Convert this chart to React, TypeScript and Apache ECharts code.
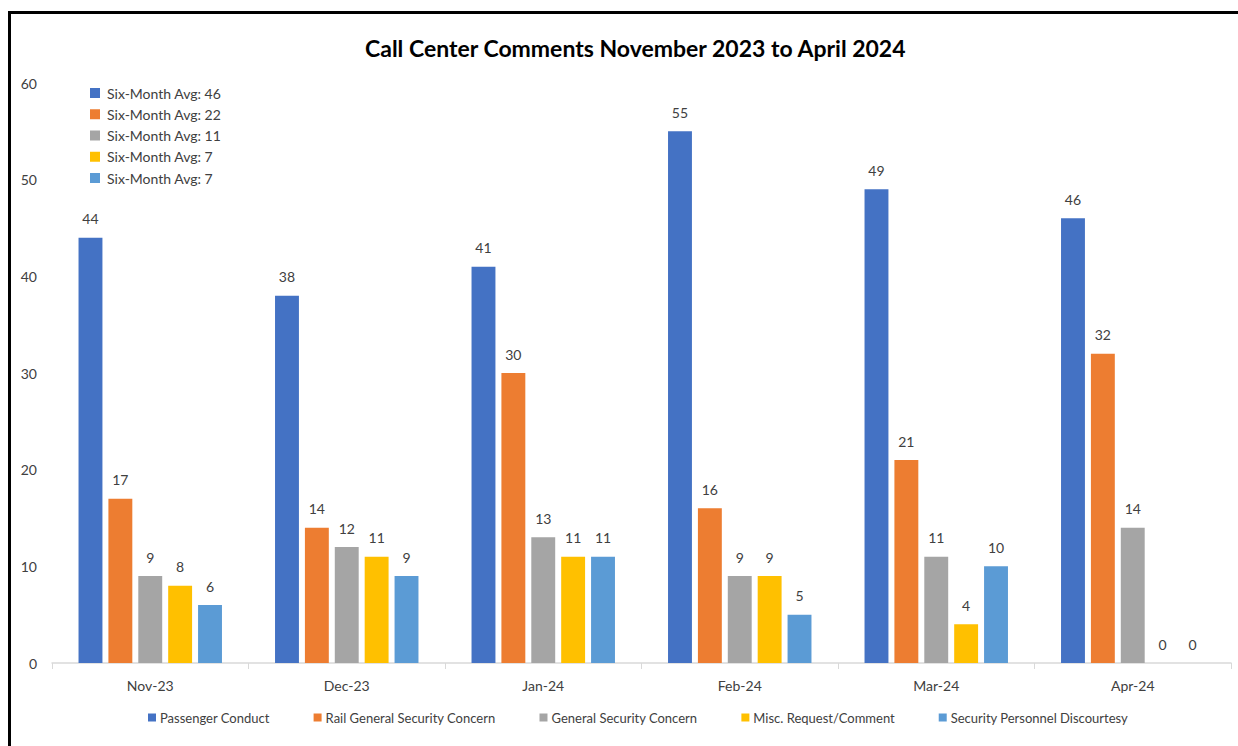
import React, { useEffect, useRef } from "react";
import * as echarts from "echarts";

const categories = ["Nov-23", "Dec-23", "Jan-24", "Feb-24", "Mar-24", "Apr-24"];
const seriesNames = [
  "Passenger Conduct",
  "Rail General Security Concern",
  "General Security Concern",
  "Misc. Request/Comment",
  "Security Personnel Discourtesy",
];
const passengerConduct = [44, 38, 41, 55, 49, 46];
const railGeneralSecurity = [17, 14, 30, 16, 21, 32];
const generalSecurity = [9, 12, 13, 9, 11, 14];
const miscRequest = [8, 11, 11, 9, 4, 0];
const personnelDiscourtesy = [6, 9, 11, 5, 10, 0];
const colors = ["#4472C4", "#ED7D31", "#A5A5A5", "#FFC000", "#5B9BD5"];
const yTicks = { min: 0, max: 60, interval: 10 };
const titleText = "Call Center Comments November 2023 to April 2024";

const FONT = "Lato, 'Noto Sans', sans-serif";

export default function App() {
  const ref = useRef<HTMLDivElement>(null);
  useEffect(() => {
    if (!ref.current) return;
    const chart = echarts.init(ref.current, null, { renderer: "svg" });
    const allData = [passengerConduct, railGeneralSecurity, generalSecurity, miscRequest, personnelDiscourtesy];
    const avgs = allData.map((d) => Math.round(d.reduce((a, b) => a + b, 0) / d.length));
    const graphics: any[] = [
      {
        type: "rect",
        shape: { x: 9.5, y: 12.5, width: 1400, height: 900 },
        style: { fill: "none", stroke: "#000", lineWidth: 3 },
        silent: true,
      },
    ];
    avgs.forEach((a, i) => {
      const cy = 93 + i * 21.25;
      graphics.push({
        type: "rect",
        shape: { x: 90, y: cy - 5, width: 10, height: 10 },
        style: { fill: colors[i] },
      });
      graphics.push({
        type: "text",
        x: 107,
        y: cy,
        style: {
          text: "Six-Month Avg: " + a,
          fill: "#404040",
          font: `14px ${FONT}`,
          verticalAlign: "middle",
        },
      });
    });
    chart.setOption({
      animation: false,
      backgroundColor: "#fff",
      color: colors,
      title: {
        text: titleText,
        left: 360,
        top: 31,
        textStyle: { fontFamily: FONT, fontWeight: "bold", fontSize: 23, color: "#000" },
      },
      legend: {
        bottom: 17,
        left: 143,
        itemWidth: 8,
        itemHeight: 8,
        itemGap: 44,
        icon: "rect",
        data: seriesNames,
        textStyle: { fontFamily: FONT, fontSize: 13, color: "#404040", padding: [0, 0, 0, -1] },
      },
      grid: { left: 52, right: 7, top: 83, bottom: 83, containLabel: false },
      xAxis: {
        type: "category",
        data: categories,
        axisLine: { lineStyle: { color: "#D9D9D9", width: 1.5 } },
        axisTick: { show: true, length: 6, lineStyle: { color: "#D9D9D9" } },
        axisLabel: { fontFamily: FONT, fontSize: 14, color: "#404040", margin: 15 },
      },
      yAxis: {
        type: "value",
        min: yTicks.min,
        max: yTicks.max,
        interval: yTicks.interval,
        axisLine: { show: false },
        axisTick: { show: false },
        splitLine: { show: false },
        axisLabel: { fontFamily: FONT, fontSize: 14, color: "#404040", margin: 15 },
      },
      series: allData.map((d, i) => ({
        name: seriesNames[i],
        type: "bar",
        data: d,
        barGap: "25%",
        barCategoryGap: "27%",
        itemStyle: { color: colors[i] },
        label: {
          show: true,
          position: "top",
          distance: 12,
          fontFamily: FONT,
          fontSize: 14,
          color: "#404040",
        },
      })),
      graphic: graphics,
    });
    return () => chart.dispose();
  }, []);
  return (
    <div
      ref={ref}
      style={{ position: "fixed", left: 0, top: 0, width: 1238, height: 746, background: "#fff" }}
    />
  );
}
